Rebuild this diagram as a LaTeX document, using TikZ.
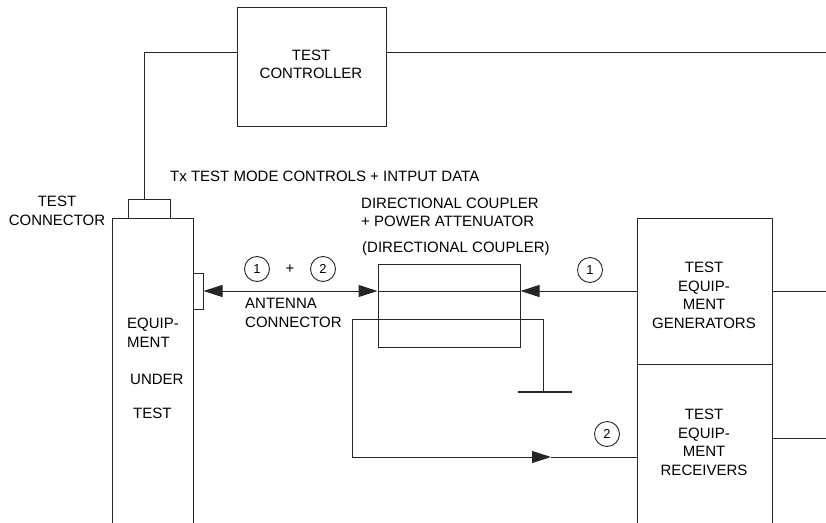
\documentclass[tikz,border=0pt]{standalone}
\usepackage{fontspec}
\setmainfont{Liberation Sans}
\usetikzlibrary{arrows.meta}
\begin{document}
\begin{tikzpicture}[x=1pt,y=-1pt,
  wire/.style={draw=black!85,line width=1pt},
  box/.style={draw=black!85,line width=1pt,rectangle,inner sep=0pt},
  lbl/.style={inner sep=0pt,font=\fontsize{15}{18.5}\selectfont},
  num/.style={draw=black!85,line width=0.9pt,circle,minimum size=25pt,inner sep=0pt,font=\fontsize{13}{13}\selectfont},
  >={Triangle[length=19pt,width=12pt]}]
\useasboundingbox (0,0) rectangle (826,522);
% boxes
\node[box,minimum width=149pt,minimum height=119pt] (ctrl) at (311.5,66.5) {};
\node[box,minimum width=42pt,minimum height=19pt] (tconn) at (149,208.5) {};
\node[box,minimum width=81pt,minimum height=312pt] (eut) at (152.5,374) {};
\node[box,minimum width=10pt,minimum height=36pt] (ant) at (198,291) {};
\node[box,minimum width=142pt,minimum height=83pt] (coup) at (449,305.5) {};
\node[box,minimum width=135pt,minimum height=146pt] (gen) at (704.5,291) {};
\node[box,minimum width=135pt,minimum height=166pt] (recv) at (704.5,447) {};
% texts
\node[lbl,align=center] (tctrl) at (311,64.5) {TEST\\CONTROLLER};
\node[lbl,align=center] (ttc) at (57,211) {TEST\\CONNECTOR};
\node[lbl,anchor=west] (ttx) at (170,176) {Tx TEST MODE CONTROLS + INTPUT DATA};
\node[lbl,anchor=west,align=left] (tdc) at (361,212.5) {DIRECTIONAL COUPLER\\+ POWER ATTENUATOR};
\node[lbl,anchor=west] (tdc2) at (362,249) {(DIRECTIONAL COUPLER)};
\node[lbl,anchor=west,align=left] (tant) at (245,313) {ANTENNA\\CONNECTOR};
\node[lbl,anchor=west,align=left] (te1) at (127,333) {EQUIP-\\MENT};
\node[lbl,anchor=west] (te2) at (130,379) {UNDER};
\node[lbl,anchor=west] (te3) at (133,413) {TEST};
\node[lbl,align=center] (tgen) at (704,295.5) {TEST\\EQUIP-\\MENT\\GENERATORS};
\node[lbl,align=center] (trec) at (704,442.5) {TEST\\EQUIP-\\MENT\\RECEIVERS};
% numbered circles
\node[num] (n1a) at (257,269) {1};
\node[lbl] (plus) at (290,269) {+};
\node[num] (n2a) at (323,269) {2};
\node[num] (n1b) at (590,270) {1};
\node[num] (n2b) at (607,434) {2};
% coordinates
\coordinate (rA) at (826,52);
\coordinate (sA) at (352,319);
\coordinate (sB) at (543,319);
\coordinate (gnd) at (543,392);
\coordinate (arr2) at (551,457);
\coordinate (rx) at (637,457);
% connectors
\draw[wire] ([yshift=14.5pt]ctrl.west) -| ([xshift=-5pt]tconn.north);
\draw[wire] (ctrl.east |- rA) -- (rA);
\draw[wire,<->] (ant.east) -- (ant.east -| coup.west);
\draw[wire] (ant.east -| coup.west) -- (ant.east -| coup.east);
\draw[wire,->] (gen.west) -- (gen.west -| coup.east);
\draw[wire] (sA) -- (sB) -- (gnd);
\draw[draw=black!85,line width=2.6pt] ([xshift=-25pt]gnd) -- ([xshift=29pt]gnd);
\draw[wire,->] (sA) |- (arr2);
\draw[wire] (arr2) -- (rx);
\draw[wire] (gen.east) -- ++(54,0);
\draw[wire] ([yshift=9pt]recv.east) -- ++(54,0);
\end{tikzpicture}
\end{document}
